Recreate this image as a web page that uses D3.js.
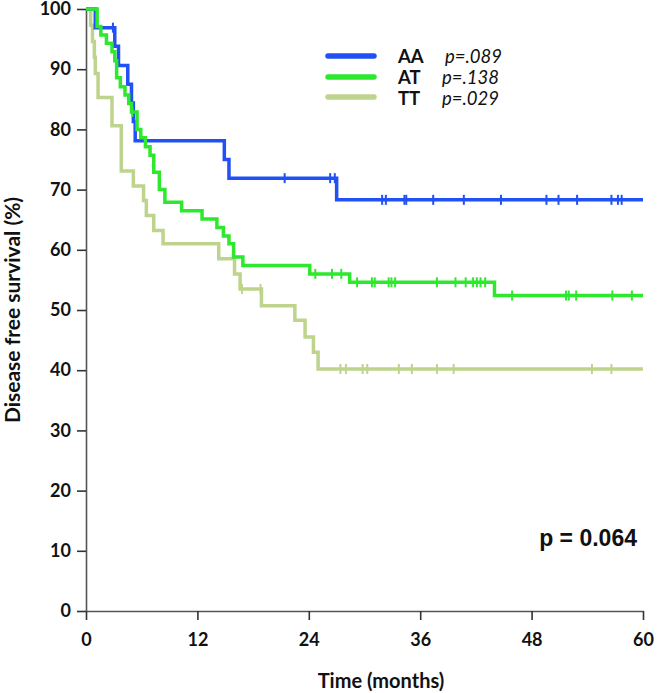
<!DOCTYPE html>
<html>
<head>
<meta charset="utf-8">
<script src="https://cdn.jsdelivr.net/npm/d3@7"></script>
<style>
  html, body { margin: 0; padding: 0; background: #fff; }
  svg { display: block; }
  .tick text { font-family: Lato, "Noto Sans", sans-serif; font-weight: bold; font-size: 18px; fill: #111; }
</style>
</head>
<body>
<svg id="chart" width="657" height="693"></svg>
<script>
// ---- Data ----
const xTicks = [0, 12, 24, 36, 48, 60];
const yTicks = [0, 10, 20, 30, 40, 50, 60, 70, 80, 90, 100];
const groups = ["AA", "AT", "TT"];
const pValues = ["p=.089", "p=.138", "p=.029"];
const colors = ["#2150f5", "#2ee82e", "#bed48c"];

const aaTimes = [0, 1.0, 3.1, 3.5, 4.5, 4.9, 5.1, 5.3, 14.9, 15.4, 27.0];
const aaSurv  = [100, 96.9, 93.8, 90.6, 87.5, 84.4, 81.3, 78.1, 75.0, 71.9, 68.3];
const aaCensor = [2.9, 21.4, 26.3, 26.8, 31.9, 32.3, 34.3, 34.5, 37.4, 40.7, 44.7, 49.6, 50.9, 52.9, 56.6, 57.3, 57.7];

const atTimes = [0, 1.2, 1.6, 2.2, 2.8, 3.1, 3.3, 3.7, 4.2, 4.6, 4.9, 5.5, 5.9, 6.4, 6.9, 7.3, 7.9, 8.5, 10.3, 12.5, 14.1, 14.8, 15.4, 15.9, 16.9, 24.1, 28.4, 44.0];
const atSurv  = [100, 97.1, 95.7, 94.3, 92.9, 91.4, 88.6, 87.1, 85.7, 84.3, 82.9, 80.0, 78.6, 77.1, 75.7, 72.9, 70.0, 67.9, 66.5, 65.1, 63.7, 62.3, 61.0, 58.8, 57.4, 56.0, 54.6, 52.4];
const atCensor = [5.0, 24.7, 26.5, 27.5, 29.2, 30.8, 31.1, 32.6, 32.9, 33.3, 37.8, 39.8, 40.9, 41.7, 42.1, 42.5, 43.0, 45.9, 51.7, 52.0, 52.8, 56.7, 58.8];

const ttTimes = [0, 0.5, 0.7, 0.9, 1.0, 1.3, 2.8, 3.8, 5.1, 6.2, 6.5, 7.3, 8.3, 14.3, 16.0, 16.6, 18.9, 22.5, 23.6, 24.5, 25.0];
const ttSurv  = [100, 97.3, 94.6, 92.0, 89.3, 85.3, 80.6, 73.1, 70.6, 68.2, 65.7, 63.2, 61.0, 58.5, 56.0, 53.5, 50.7, 48.3, 45.5, 43.0, 40.2];
const ttCensor = [16.8, 18.8, 27.4, 28.0, 29.8, 30.3, 33.7, 35.1, 37.8, 39.6, 54.5, 56.6];

const maxTime = 60;

// ---- Chart ----
const svg = d3.select("#chart");
const x = d3.scaleLinear().domain([0, 60]).range([86, 643]);
const y = d3.scaleLinear().domain([0, 100]).range([611, 9]);

const font = 'Lato, "Noto Sans", sans-serif';

// axes
const xAxis = svg.append("g").attr("transform", `translate(0,${y(0)})`)
  .call(d3.axisBottom(x).tickValues(xTicks).tickSize(9).tickSizeOuter(0).tickPadding(13));
const yAxis = svg.append("g").attr("transform", `translate(${x(0)},0)`)
  .call(d3.axisLeft(y).tickValues(yTicks).tickSize(9).tickSizeOuter(0).tickPadding(6));
[xAxis, yAxis].forEach(a => {
  a.select(".domain").attr("stroke", "#555").attr("stroke-width", 1.6);
  a.selectAll(".tick line").attr("stroke", "#333").attr("stroke-width", 1.6);
});

// curves
const series = [
  { times: ttTimes, surv: ttSurv, cens: ttCensor, color: colors[2] },
  { times: aaTimes, surv: aaSurv, cens: aaCensor, color: colors[0] },
  { times: atTimes, surv: atSurv, cens: atCensor, color: colors[1] }
];
const line = d3.line().x(d => x(d[0])).y(d => y(d[1])).curve(d3.curveStepAfter);

series.forEach(s => {
  const pts = s.times.map((t, i) => [t, s.surv[i]]);
  pts.push([maxTime, s.surv[s.surv.length - 1]]);
  svg.append("path").datum(pts)
    .attr("d", line)
    .attr("fill", "none")
    .attr("stroke", s.color)
    .attr("stroke-width", 3.5)
    .attr("stroke-linejoin", "miter");
  const survAt = t => {
    let v = 100;
    s.times.forEach((tt, i) => { if (tt <= t) v = s.surv[i]; });
    return v;
  };
  svg.append("g").selectAll("line").data(s.cens).join("line")
    .attr("x1", d => x(d)).attr("x2", d => x(d))
    .attr("y1", d => y(survAt(d)) - 5).attr("y2", d => y(survAt(d)) + 5)
    .attr("stroke", s.color).attr("stroke-width", 2);
});

// legend
const legY = [56, 77, 97];
const legBase = [62.5, 83.5, 104.5];
groups.forEach((g, i) => {
  svg.append("line")
    .attr("x1", 328).attr("x2", 374)
    .attr("y1", legY[i]).attr("y2", legY[i])
    .attr("stroke", colors[i]).attr("stroke-width", 5.5)
    .attr("stroke-linecap", "round");
  svg.append("text").attr("x", 398).attr("y", legBase[i])
    .attr("font-family", font).attr("font-weight", "bold").attr("font-size", 18.5)
    .attr("fill", "#111").text(g);
  svg.append("text").attr("x", i === 0 ? 445 : 442).attr("y", legBase[i])
    .attr("font-family", font).attr("font-style", "italic").attr("font-size", 18.5)
    .attr("fill", "#111").text(pValues[i]);
});

// p value
svg.append("text").attr("x", 637).attr("y", 546).attr("text-anchor", "end")
  .attr("font-family", '"Liberation Sans", Arial, sans-serif').attr("font-weight", "bold")
  .attr("font-size", 23).attr("fill", "#111").text("p = 0.064");

// axis titles
svg.append("text").attr("x", 381).attr("y", 688).attr("text-anchor", "middle")
  .attr("font-family", font).attr("font-weight", "bold").attr("font-size", 20)
  .attr("fill", "#111").text("Time (months)");
svg.append("text").attr("transform", "translate(20,310) rotate(-90)")
  .attr("text-anchor", "middle")
  .attr("font-family", font).attr("font-weight", "bold").attr("font-size", 21)
  .attr("fill", "#111").text("Disease free survival (%)");
</script>
</body>
</html>
